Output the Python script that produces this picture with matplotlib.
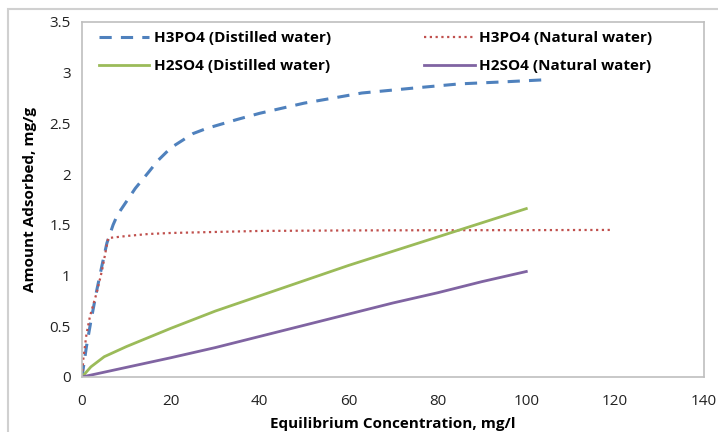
import matplotlib; matplotlib.use('Agg')
import matplotlib.pyplot as plt
from matplotlib.patches import Rectangle

# H3PO4, distilled water
c_p_dist = [0, 1, 2, 3.3, 4.5, 5.6, 7, 8, 10, 12, 15, 17, 20, 25, 28, 35, 40, 50, 63, 75, 85, 95, 104]
q_p_dist = [0, 0.3, 0.55, 0.85, 1.1, 1.32, 1.5, 1.6, 1.73, 1.86, 2.02, 2.13, 2.26, 2.4, 2.45, 2.54, 2.6, 2.7, 2.8, 2.85, 2.89, 2.91, 2.93]
# H3PO4, natural water
c_p_nat = [0, 0.3, 1, 1.8, 3.3, 4.5, 5.9, 8, 10, 15, 20, 30, 40, 60, 80, 100, 119.4]
q_p_nat = [0, 0.18, 0.42, 0.6, 0.83, 1.05, 1.37, 1.38, 1.39, 1.41, 1.42, 1.43, 1.44, 1.445, 1.447, 1.448, 1.45]
# H2SO4, distilled water
c_s_dist = [0, 2, 5, 10, 20, 30, 40, 50, 60, 70, 80, 90, 100]
q_s_dist = [0, 0.1, 0.2, 0.3, 0.48, 0.65, 0.8, 0.95, 1.1, 1.24, 1.38, 1.52, 1.66]
# H2SO4, natural water
c_s_nat = [0, 10, 20, 30, 40, 50, 60, 70, 80, 90, 100]
q_s_nat = [0, 0.095, 0.19, 0.29, 0.4, 0.51, 0.62, 0.73, 0.83, 0.94, 1.04]

plt.rcParams['font.family'] = ['Open Sans', 'DejaVu Sans']
fig = plt.figure(figsize=(7.18, 4.32), dpi=100)
ax = fig.add_axes([82/718, 55/432, 622/718, 355/432])
fig.patches.append(Rectangle((8/718, -0.1), 1.2, (432-9)/432 + 0.1, transform=fig.transFigure,
                             fill=False, edgecolor='#D0D0D0', lw=1.5))

l1, = ax.plot(c_p_dist, q_p_dist, color='#4F81BD', lw=2.2, ls=(0, (4, 3)), label='H3PO4 (Distilled water)')
l2, = ax.plot(c_p_nat, q_p_nat, color='#C0504D', lw=1.6, ls=(0, (1, 1.6)), label='H3PO4 (Natural water)')
l3, = ax.plot(c_s_dist, q_s_dist, color='#9BBB59', lw=2.0, label='H2SO4 (Distilled water)')
l4, = ax.plot(c_s_nat, q_s_nat, color='#8064A2', lw=2.0, label='H2SO4 (Natural water)')

ax.set_xlim(0, 140); ax.set_ylim(0, 3.5)
ax.set_xticks(range(0, 141, 20)); ax.set_yticks([0, 0.5, 1, 1.5, 2, 2.5, 3, 3.5])
ax.set_yticklabels(['0', '0.5', '1', '1.5', '2', '2.5', '3', '3.5'])
ax.tick_params(length=0, labelsize=11, colors='#222222', pad=8)
ax.tick_params(axis='x', pad=12)
for s in ax.spines.values():
    s.set_color('#BFBFBF'); s.set_linewidth(1.2)
ax.set_xlabel('Equilibrium Concentration, mg/l', fontweight='bold', fontsize=11, labelpad=6)
ax.set_ylabel('Amount Adsorbed, mg/g', fontweight='bold', fontsize=11, labelpad=9)

# legend fills column-wise: distilled pair left, natural pair right
handles = [l1, l3, l2, l4]
leg = ax.legend(handles, [h.get_label() for h in handles], ncol=2, loc='upper left',
                bbox_to_anchor=(0.005, 1.012), frameon=False,
                prop={'weight': 'bold', 'size': 11}, columnspacing=6.1, handlelength=3.3,
                handletextpad=0.3, labelspacing=0.9)

fig.savefig('out.png', dpi=100)
